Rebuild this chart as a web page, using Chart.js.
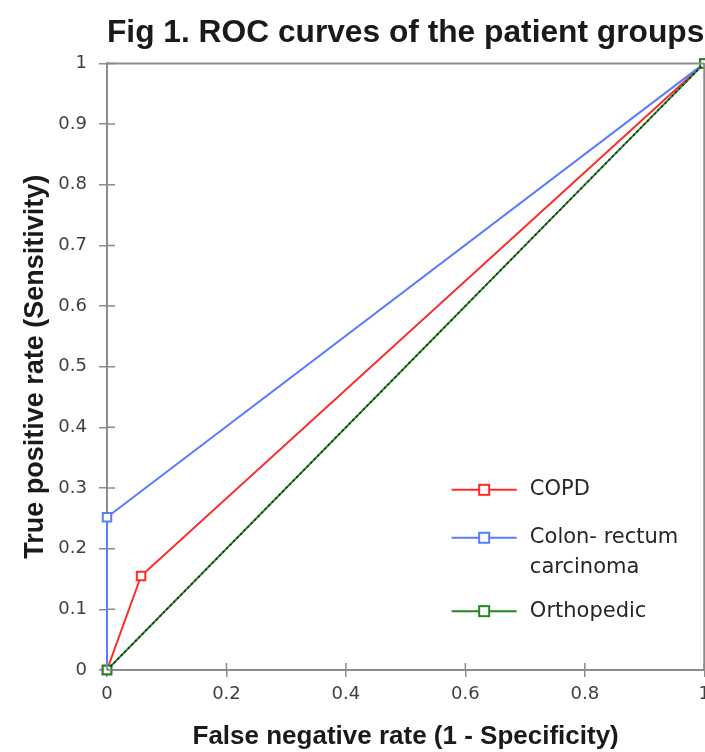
<!DOCTYPE html>
<html>
<head>
<meta charset="utf-8">
<script src="https://cdn.jsdelivr.net/npm/chart.js@4.4.1/dist/chart.umd.min.js"></script>
<style>
  html, body { margin: 0; padding: 0; background: #fff; overflow: hidden; }
  #wrap { width: 717px; height: 752px; }
</style>
</head>
<body>
<div id="wrap"><canvas id="c"></canvas></div>
<script>
// ---- data ----
const seriesNames = ['COPD', 'Colon- rectum carcinoma', 'Orthopedic'];
const copdX = [0, 0.057, 1];
const copdY = [0, 0.155, 1];
const colonX = [0, 0, 1];
const colonY = [0, 0.252, 1];
const orthoX = [0, 1];
const orthoY = [0, 1];
const refX = [0, 1];
const refY = [0, 1];
const xTickLabels = ['0', '0.2', '0.4', '0.6', '0.8', '1'];
const yTickLabels = ['0', '0.1', '0.2', '0.3', '0.4', '0.5', '0.6', '0.7', '0.8', '0.9', '1'];

const colors = ['#ff2b2b', '#5a7cff', '#1f8a1f'];
const pts = (xs, ys) => xs.map((x, i) => ({ x: x, y: ys[i] }));

const axisGray = '#8c8c8c';
const tickFont = { family: 'DejaVu Sans', size: 18 };

const frameAndTicks = {
  id: 'frameAndTicks',
  afterDatasetsDraw(chart) {
    const { ctx, chartArea: a, scales } = chart;
    ctx.save();
    ctx.strokeStyle = axisGray;
    ctx.lineWidth = 2;
    ctx.beginPath();
    ctx.moveTo(a.left, a.top); ctx.lineTo(a.right, a.top);
    ctx.moveTo(a.right, a.top); ctx.lineTo(a.right, a.bottom);
    ctx.stroke();
    ctx.lineWidth = 1.5;
    ctx.beginPath();
    scales.y.ticks.forEach(t => {
      const y = scales.y.getPixelForValue(t.value);
      ctx.moveTo(a.left, y); ctx.lineTo(a.left + 8, y);
    });
    scales.x.ticks.forEach(t => {
      const x = scales.x.getPixelForValue(t.value);
      ctx.moveTo(x, a.bottom); ctx.lineTo(x, a.bottom - 7);
    });
    ctx.stroke();
    ctx.restore();
  }
};

const insideLegend = {
  id: 'insideLegend',
  afterDraw(chart) {
    const { ctx, chartArea: a } = chart;
    const w = a.right - a.left, h = a.bottom - a.top;
    const x1 = a.left + 0.577 * w, x2 = a.left + 0.686 * w;
    const mx = (x1 + x2) / 2;
    const tx = a.left + 0.708 * w;
    const rows = [0.703, 0.782, 0.903];
    ctx.save();
    ctx.font = '21px "DejaVu Sans"';
    ctx.textBaseline = 'middle';
    for (let i = 0; i < 3; i++) {
      const y = a.top + rows[i] * h;
      ctx.strokeStyle = colors[i];
      ctx.lineWidth = 2;
      ctx.beginPath(); ctx.moveTo(x1, y); ctx.lineTo(x2, y); ctx.stroke();
      ctx.fillStyle = '#fff';
      ctx.fillRect(mx - 5, y - 5, 10, 10);
      ctx.strokeRect(mx - 5, y - 5, 10, 10);
      ctx.fillStyle = '#262626';
      const parts = seriesNames[i] === 'Colon- rectum carcinoma' ? ['Colon- rectum', 'carcinoma'] : [seriesNames[i]];
      parts.forEach((p, k) => ctx.fillText(p, tx, y + k * 30));
    }
    ctx.restore();
  }
};

const mkSet = (label, data, color, order) => ({
  label: label, data: data, borderColor: color, backgroundColor: '#ffffff',
  borderWidth: 2, pointStyle: 'rect', pointRadius: 6, pointBorderWidth: 2,
  pointBackgroundColor: '#ffffff', pointBorderColor: color,
  showLine: true, tension: 0, order: order, clip: false
});

new Chart(document.getElementById('c'), {
  type: 'scatter',
  data: {
    datasets: [
      mkSet(seriesNames[0], pts(copdX, copdY), colors[0], 4),
      mkSet(seriesNames[1], pts(colonX, colonY), colors[1], 3),
      mkSet(seriesNames[2], pts(orthoX, orthoY), colors[2], 2),
      { label: 'ref', data: pts(refX, refY), borderColor: '#222222', borderWidth: 1.6,
        borderDash: [2, 3], pointRadius: 0, showLine: true, order: 1, clip: false }
    ]
  },
  options: {
    responsive: true,
    maintainAspectRatio: false,
    animation: false,
    layout: { padding: { left: 0, right: 0, top: 0, bottom: 0 } },
    plugins: {
      legend: { display: false },
      tooltip: { enabled: false },
      title: {
        display: true,
        text: 'Fig 1. ROC curves of the patient groups',
        fullSize: false,
        color: '#1a1a1a',
        font: { family: 'Liberation Sans', size: 32, weight: 'bold' },
        padding: { top: 14, bottom: 11 }
      }
    },
    scales: {
      x: {
        type: 'linear', min: 0, max: 1,
        afterFit: s => { s.height = 82; },
        ticks: { stepSize: 0.2, color: '#404040', font: tickFont, padding: 7,
          callback: (v) => xTickLabels[Math.round(v * 5)] },
        grid: { drawOnChartArea: false, drawTicks: true, tickLength: 7, color: axisGray, lineWidth: 1.5 },
        border: { display: true, color: axisGray, width: 2 },
        title: { display: true, text: 'False negative rate (1 - Specificity)', color: '#1a1a1a',
          font: { family: 'Liberation Sans', size: 26, weight: 'bold' }, padding: { top: 0, bottom: 0 } }
      },
      y: {
        type: 'linear', min: 0, max: 1,
        afterFit: s => { s.width = 107; },
        ticks: { stepSize: 0.1, color: '#404040', font: tickFont, padding: 12,
          callback: (v) => yTickLabels[Math.round(v * 10)] },
        grid: { drawOnChartArea: false, drawTicks: true, tickLength: 8, color: axisGray, lineWidth: 1.5 },
        border: { display: true, color: axisGray, width: 2 },
        title: { display: true, text: 'True positive rate (Sensitivity)', color: '#1a1a1a',
          font: { family: 'Liberation Sans', size: 27, weight: 'bold' }, padding: { top: 19, bottom: 0 } }
      }
    }
  },
  plugins: [frameAndTicks, insideLegend]
});
</script>
</body>
</html>
